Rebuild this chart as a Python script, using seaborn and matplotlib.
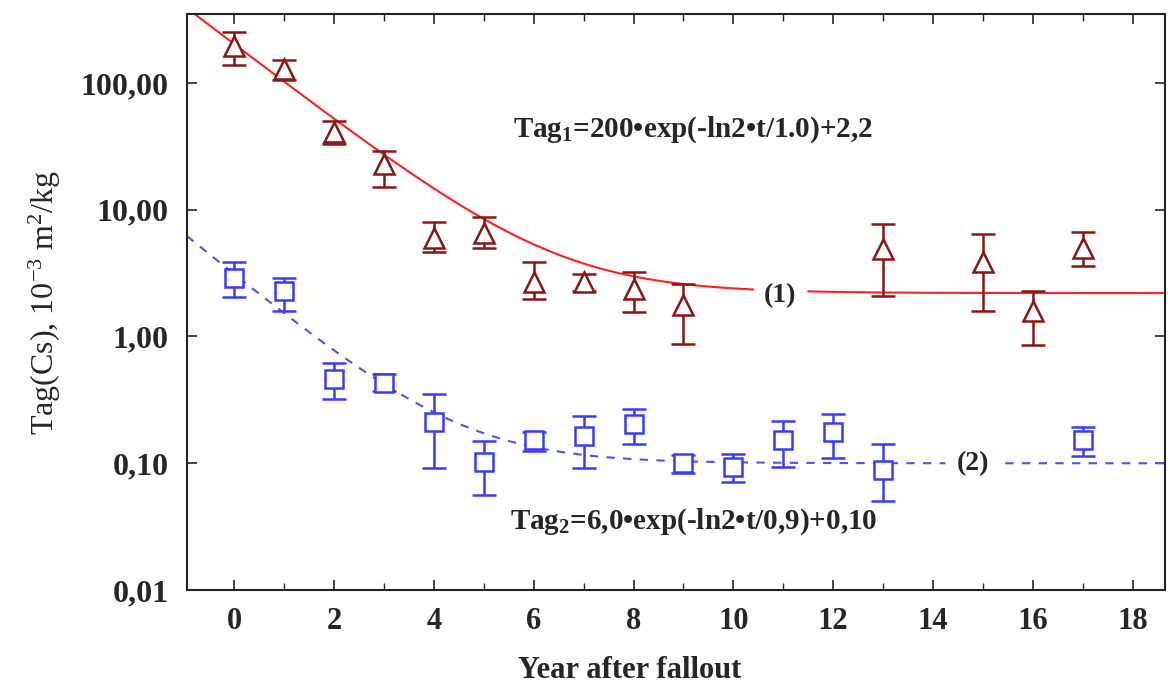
import numpy as np
import pandas as pd
import matplotlib
matplotlib.use("Agg")
import matplotlib.pyplot as plt
import seaborn as sns
from matplotlib.ticker import FixedLocator, MultipleLocator, NullLocator

# ---- data ----
t1 = [0, 1, 2, 3, 4, 5, 6, 7, 8, 9, 13, 15, 16, 17]
v1 = [195, 129, 41, 23, 6.0, 6.6, 2.7, 2.7, 2.35, 1.78, 4.9, 3.9, 1.58, 5.0]
lo1 = [139, 105, 33, 15, 4.6, 5.0, 1.96, 2.3, 1.55, 0.87, 2.08, 1.58, 0.85, 3.6]
hi1 = [252, 152, 50, 29, 8.0, 8.7, 3.85, 3.1, 3.2, 2.6, 7.7, 6.4, 2.3, 6.7]

t2 = [0, 1, 2, 3, 4, 5, 6, 7, 8, 9, 10, 11, 12, 13, 17]
v2 = [2.9, 2.28, 0.46, 0.43, 0.21, 0.102, 0.153, 0.165, 0.205, 0.10, 0.094, 0.153, 0.177, 0.089, 0.153]
lo2 = [2.04, 1.6, 0.32, 0.37, 0.091, 0.056, 0.124, 0.092, 0.142, 0.084, 0.071, 0.094, 0.11, 0.050, 0.115]
hi2 = [3.85, 2.9, 0.62, 0.51, 0.35, 0.15, 0.177, 0.234, 0.27, 0.117, 0.119, 0.217, 0.246, 0.143, 0.194]

# fitted curves (amplitude, half-life, background)
fit1 = (200.0, 1.0, 2.2)
fit2 = (3.0, 0.93, 0.10)

xticks = [0, 2, 4, 6, 8, 10, 12, 14, 16, 18]
yticks = [0.01, 0.1, 1, 10, 100]
ytick_labels = ["0,01", "0,10", "1,00", "10,00", "100,00"]

# ---- style ----
sns.set_style("ticks")
plt.rcParams['font.family'] = ['Liberation Serif', 'DejaVu Serif']
plt.rcParams['mathtext.fontset'] = 'custom'
plt.rcParams['mathtext.rm'] = 'Liberation Serif'
plt.rcParams['mathtext.it'] = 'Liberation Serif:italic'
plt.rcParams['mathtext.bf'] = 'Liberation Serif:bold'

c_tri = "#8B1515"
c_red = "#FF2020"
c_sq = "#3A3AFF"
c_blue = "#4F4FFF"

fig = plt.figure(figsize=(11.68, 6.89), dpi=100)
ax = fig.add_axes([187/1168, 1-590/689, (1165-187)/1168, (590-14)/689])

def curve(tt, p):
    a, th, c = p
    return a * np.exp(-np.log(2) * tt / th) + c

xmin, xmax = -0.95, 18.65

seg1a = np.linspace(xmin, 10.4, 300)
seg1b = np.linspace(11.5, xmax, 50)
seg2a = np.linspace(xmin, 14.25, 300)
seg2b = np.linspace(15.45, xmax, 50)

for seg in (seg1a, seg1b):
    df = pd.DataFrame({"t": seg, "v": curve(seg, fit1)})
    sns.lineplot(data=df, x="t", y="v", ax=ax, color=c_red, lw=1.5, estimator=None, sort=False)
for seg in (seg2a, seg2b):
    df = pd.DataFrame({"t": seg, "v": curve(seg, fit2)})
    sns.lineplot(data=df, x="t", y="v", ax=ax, color=c_blue, lw=1.5, estimator=None, sort=False,
                 linestyle=(0, (4, 4)))

v1a, v2a = np.array(v1), np.array(v2)
ax.errorbar(t1, v1, yerr=[v1a - np.array(lo1), np.array(hi1) - v1a], fmt='^', ms=14,
            mfc='white', mec=c_tri, mew=1.8, ecolor=c_tri, elinewidth=1.8, capsize=8.5, capthick=1.8,
            zorder=3)
ax.errorbar(t2, v2, yerr=[v2a - np.array(lo2), np.array(hi2) - v2a], fmt='s', ms=12.5,
            mfc='white', mec=c_sq, mew=1.8, ecolor=c_sq, elinewidth=1.8, capsize=8.5, capthick=1.8,
            zorder=3)

ax.set_yscale('log')
ax.set_xlim(xmin, xmax)
ax.set_ylim(0.01, 350)
ax.yaxis.set_major_locator(FixedLocator(yticks))
ax.yaxis.set_minor_locator(NullLocator())
ax.set_yticklabels(ytick_labels)
ax.set_xticks(xticks)
ax.xaxis.set_minor_locator(MultipleLocator(1))
ax.tick_params(axis='both', which='both', direction='in', top=True, right=True)
ax.tick_params(axis='both', which='major', length=7, width=1.2)
ax.tick_params(axis='x', which='minor', length=5, width=1.0)
ax.tick_params(axis='x', which='major', labelsize=22, pad=12)
ax.tick_params(axis='y', which='major', labelsize=23, pad=13)
for lab in ax.get_xticklabels():
    lab.set_fontweight('bold')
for lab in ax.get_yticklabels():
    lab.set_fontweight('semibold')
for s in ax.spines.values():
    s.set_linewidth(1.5)
    s.set_color("#222222")

ax.set_xlabel("Year after fallout", fontsize=22, fontweight='bold', va='center')
ax.xaxis.set_label_coords((630-187)/978, -(670-590)/576)
ax.set_ylabel("Tag(Cs), 10$^{-3}$ m$^{2}$/kg", fontsize=23, fontweight='normal', va='center')
ax.yaxis.set_label_coords(-(187-45)/978, 0.5)

ax.text(9.2, 43, "Tag$_{\\mathbf{1}}$=200\u2022exp(-ln2\u2022t/1.0)+2,2", fontsize=21, fontweight='bold',
        ha='center', va='center')
ax.text(9.2, 0.0345, "Tag$_{\\mathbf{2}}$=6,0\u2022exp(-ln2\u2022t/0,9)+0,10", fontsize=21, fontweight='bold',
        ha='center', va='center')
ax.text(10.94, 2.1, "(1)", fontsize=20, fontweight='bold', ha='center', va='center')
ax.text(14.8, 0.10, "(2)", fontsize=20, fontweight='bold', ha='center', va='center')

fig.savefig("out.png", dpi=100)
